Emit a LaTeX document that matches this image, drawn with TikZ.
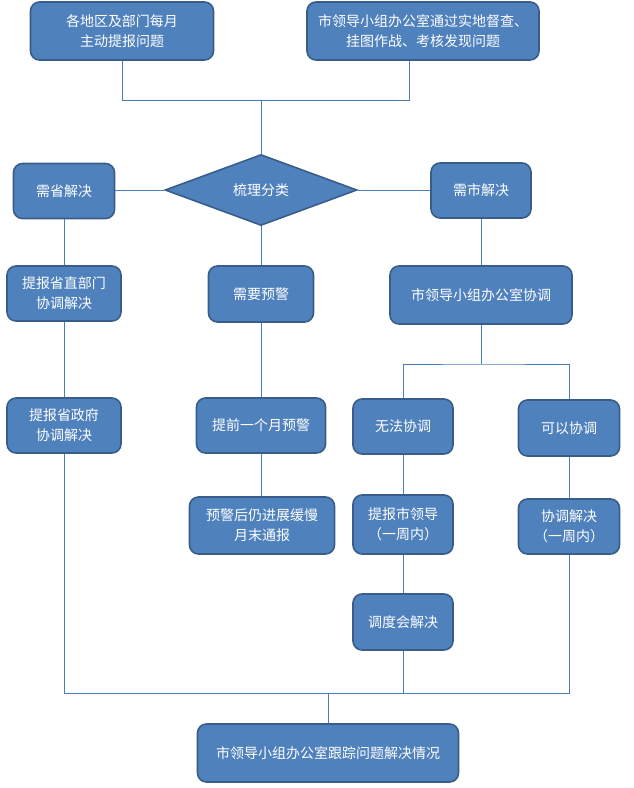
\documentclass[tikz,border=0pt]{standalone}
\usepackage{fontspec}
\newfontfamily\cjk{Noto Sans CJK SC}
\usepackage{tikz}
\usetikzlibrary{shapes.geometric}

\definecolor{boxfill}{HTML}{4F81BD}
\definecolor{boxline}{HTML}{385D8A}
\definecolor{linkcol}{HTML}{4A7EBB}

\begin{document}
\begin{tikzpicture}[x=1pt, y=-1pt,
	box/.style={draw=boxline, fill=boxfill, line width=1.6pt, rounded corners=9pt, text=white, align=center, inner sep=0pt, font=\cjk\fontsize{14}{20}\selectfont},
	link/.style={draw=linkcol, line width=0.9pt}]
	\useasboundingbox (0,0) rectangle (633,788);

	\node[box, minimum width=183pt, minimum height=58pt]	(report)		at	(122,31)		{各地区及部门每月\\主动提报问题};
	\node[box, minimum width=232pt, minimum height=58pt]	(inspect)	at	(423,31)		{市领导小组办公室通过实地督查、\\挂图作战、考核发现问题};
	\node[box, diamond, sharp corners, aspect=2.7, minimum width=192pt, minimum height=71pt]	(sort)	at	(261,190)	{梳理分类};
	\node[box, minimum width=101pt, minimum height=55pt]	(prov)		at	(64,191)		{需省解决};
	\node[box, minimum width=100pt, minimum height=55pt]	(city)		at	(481,190.5)	{需市解决};
	\node[box, minimum width=114pt, minimum height=55pt]	(provdept)	at	(64,293.5)	{提报省直部门\\协调解决};
	\node[box, minimum width=105pt, minimum height=56pt]	(warn)		at	(261,294)	{需要预警};
	\node[box, minimum width=182pt, minimum height=58pt]	(citycoord)	at	(481,295)	{市领导小组办公室协调};
	\node[box, minimum width=114pt, minimum height=55pt]	(provgov)	at	(64,425.5)	{提报省政府\\协调解决};
	\node[box, minimum width=129pt, minimum height=55pt]	(warnearly)	at	(261,425.5)	{提前一个月预警};
	\node[box, minimum width=100pt, minimum height=55pt]	(nocoord)	at	(403,426.5)	{无法协调};
	\node[box, minimum width=101pt, minimum height=56pt]	(cancoord)	at	(569,428)	{可以协调};
	\node[box, minimum width=145pt, minimum height=57pt]	(warnlate)	at	(262,525.5)	{预警后仍进展缓慢\\月末通报};
	\node[box, minimum width=100pt, minimum height=59pt]	(cityleader)	at	(403,524.5)	{提报市领导\\（一周内）};
	\node[box, minimum width=101pt, minimum height=55pt]	(coordok)	at	(569,526.5)	{协调解决\\（一周内）};
	\node[box, minimum width=100pt, minimum height=56pt]	(meeting)	at	(403,622)	{调度会解决};
	\node[box, minimum width=261pt, minimum height=58pt]	(track)		at	(328,753)	{市领导小组办公室跟踪问题解决情况};

	\coordinate	(TopR)		at	(409,100);
	\coordinate	(Split)		at	(481,364);
	\coordinate	(Merge)		at	(328,693);

	\draw[link] (report.south) |- (TopR) -- (inspect.south -| TopR);
	\draw[link] (sort.north) -- (sort.north |- TopR);
	\draw[link] (sort.west) -- (sort.west -| prov.east);
	\draw[link] (sort.east) -- (sort.east -| city.west);

	\draw[link] (prov.south) -- (provdept.north);
	\draw[link] (provdept.south) -- (provgov.north);
	\draw[link] (sort.south) -- (warn.north);
	\draw[link] (warn.south) -- (warnearly.north);
	\draw[link] (warnearly.south) -- (warnearly.south |- warnlate.north);
	\draw[link] (city.south) -- (citycoord.north);
	\draw[link] (citycoord.south) -- (Split);
	\draw[link] (nocoord.north) |- (Split) -| (cancoord.north);
	\draw[link] (nocoord.south) -- (cityleader.north);
	\draw[link] (cityleader.south) -- (meeting.north);
	\draw[link] (cancoord.south) -- (coordok.north);

	\draw[link] (provgov.south) |- (Merge) -- (track.north);
	\draw[link] (meeting.south) -- (meeting.south |- Merge);
	\draw[link] (coordok.south) |- (Merge);
\end{tikzpicture}
\end{document}
